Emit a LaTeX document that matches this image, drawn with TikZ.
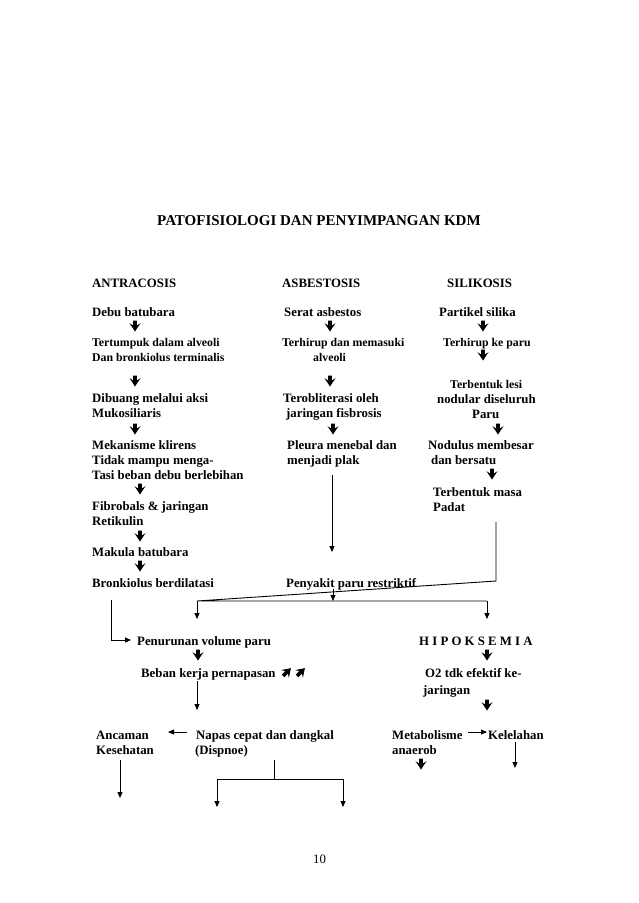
\documentclass[tikz,border=0pt]{standalone}
\usepackage{fontspec}
\setmainfont{Liberation Serif}
\usetikzlibrary{arrows.meta}
\tikzset{
  txt/.style={anchor=base west, inner sep=0pt, font=\bfseries\fontsize{12.8}{15}\selectfont},
  sml/.style={anchor=base west, inner sep=0pt, font=\bfseries\fontsize{11.8}{14}\selectfont},
  ttl/.style={anchor=base west, inner sep=0pt, font=\bfseries\fontsize{15}{18}\selectfont},
  pnum/.style={anchor=base west, inner sep=0pt, font=\fontsize{12.8}{15}\selectfont},
  conn/.style={line width=0.9pt},
  conarr/.style={conn, -{Triangle[length=6pt,width=5pt]}},
  bigdown/.pic={\fill (-1.8,-5.5) -- (1.8,-5.5) -- (1.8,-0.5) -- (5.5,-2.8) -- (0,5.5) -- (-5.5,-2.8) -- (-1.8,-0.5) -- cycle;}
}
\begin{document}
\begin{tikzpicture}[x=1pt,y=-1pt]
\useasboundingbox[fill=white] (0,0) rectangle (638,903);
% title
\node[ttl] (title) at (157,225) {PATOFISIOLOGI DAN PENYIMPANGAN KDM};
% left column
\node[txt] (antra) at (92,287) {ANTRACOSIS};
\node[txt] (debu) at (92,316) {Debu batubara};
\pic at (135,326) {bigdown};
\node[sml] (tertumpuk) at (92,346) {Tertumpuk dalam alveoli};
\node[sml] (danbronk) at (92,361) {Dan bronkiolus terminalis};
\pic at (135,381) {bigdown};
\node[txt] (dibuang) at (92,402) {Dibuang melalui aksi};
\node[txt] (mukos) at (92,417) {Mukosiliaris};
\pic at (135,429) {bigdown};
\node[txt] (mekan) at (92,449) {Mekanisme klirens};
\node[txt] (tidak) at (92,464) {Tidak mampu menga-};
\node[txt] (tasi) at (92,479) {Tasi beban debu berlebihan};
\pic at (140,489) {bigdown};
\node[txt] (fibro) at (92,510) {Fibrobals \& jaringan};
\node[txt] (retik) at (92,525) {Retikulin};
\pic at (140,536) {bigdown};
\node[txt] (makula) at (92,556) {Makula batubara};
\pic at (140,566) {bigdown};
\node[txt] (bronk) at (92,587) {Bronkiolus berdilatasi};
% middle column
\node[txt] (asbes) at (282,287) {ASBESTOSIS};
\node[txt] (serat) at (284,316) {Serat asbestos};
\pic at (330,326) {bigdown};
\node[sml] (terhirup) at (282,346) {Terhirup dan memasuki};
\node[sml] (alveoli) at (313,361) {alveoli};
\pic at (330,381) {bigdown};
\node[txt] (terob) at (283,402) {Terobliterasi oleh};
\node[txt] (jarfis) at (286,417) {jaringan fisbrosis};
\pic at (333,429) {bigdown};
\node[txt] (pleura) at (287,449) {Pleura menebal dan};
\node[txt] (plak) at (287,464) {menjadi plak};
\node[txt] (penyakit) at (286,587) {Penyakit paru restriktif};
% right column
\node[txt] (silik) at (447,287) {SILIKOSIS};
\node[txt] (partikel) at (439,316) {Partikel silika};
\pic at (483,326) {bigdown};
\node[sml] (terhirupke) at (443,346) {Terhirup ke paru};
\pic at (483,355) {bigdown};
\node[sml] (lesi) at (450,388) {Terbentuk lesi};
\node[txt] (nodular) at (437,403) {nodular diseluruh};
\node[txt] (paru) at (472,418) {Paru};
\pic at (498,429) {bigdown};
\node[txt] (nodulus) at (428,449) {Nodulus membesar};
\node[txt] (bersatu) at (431,464) {dan bersatu};
\pic at (492,474) {bigdown};
\node[txt] (masa) at (433,496) {Terbentuk masa};
\node[txt] (padat) at (433,511) {Padat};
% lower part
\node[txt] (penurunan) at (137,645) {Penurunan volume paru};
\pic at (198,655) {bigdown};
\node[txt] (beban) at (141,677) {Beban kerja pernapasan};
\pic[rotate=135] at (287,672) {bigdown};
\pic[rotate=135] at (301,672) {bigdown};
\node[txt] (hipo) at (419,645) {H I P O K S E M I A};
\pic at (487,655) {bigdown};
\node[txt] (otwo) at (425,677) {O2 tdk efektif ke-};
\node[txt] (jaringan) at (423,694) {jaringan};
\pic at (487,705) {bigdown};
\node[txt] (ancaman) at (96,739) {Ancaman};
\node[txt] (kesehatan) at (96,754) {Kesehatan};
\node[txt] (napas) at (196,739) {Napas cepat dan dangkal};
\node[txt] (dispnoe) at (195,754) {(Dispnoe)};
\node[txt] (metab) at (392,739) {Metabolisme};
\node[txt] (anaerob) at (392,754) {anaerob};
\pic at (421,764) {bigdown};
\node[txt] (kelelahan) at (488,739) {Kelelahan};
\node[pnum] (pagenum) at (313,863) {10};
% coordinates for connectors
\coordinate (plakS) at (332,475);
\coordinate (plakE) at (332,552);
\coordinate (padatS) at (496,522);
\coordinate (padatB) at (496,581);
\coordinate (junL) at (197,601);
\coordinate (junR) at (487,601);
\coordinate (junM) at (333,601);
\coordinate (penyS) at (333,589);
\coordinate (leftE) at (197,619);
\coordinate (rightE) at (487,619);
\coordinate (bronkS) at (111,600);
\coordinate (penA) at (131,640);
\coordinate (bebanS) at (197,681);
\coordinate (bebanE) at (197,710);
\coordinate (napasL) at (187,732);
\coordinate (ancamanR) at (168,732);
\coordinate (ancS) at (120,760);
\coordinate (ancE) at (120,798);
\coordinate (dispS) at (274,760);
\coordinate (forkM) at (274,779);
\coordinate (forkL) at (217,779);
\coordinate (forkR) at (343,779);
\coordinate (forkLE) at (217,807);
\coordinate (forkRE) at (343,807);
\coordinate (metabR) at (468,732);
\coordinate (kelL) at (487,732);
\coordinate (kelS) at (515,742);
\coordinate (kelE) at (515,768);
% connectors
\draw[conarr] (plakS) -- (plakE);
\draw[conn] (padatS) -- (padatB) -- (junL) -- (junR);
\draw[conarr] (penyS) -- (junM);
\draw[conarr] (junL) -- (leftE);
\draw[conarr] (junR) -- (rightE);
\draw[conarr] (bronkS) |- (penA);
\draw[conarr] (bebanS) -- (bebanE);
\draw[conarr] (napasL) -- (ancamanR);
\draw[conarr] (ancS) -- (ancE);
\draw[conn] (dispS) -- (forkM);
\draw[conn] (forkL) -- (forkR);
\draw[conarr] (forkL) -- (forkLE);
\draw[conarr] (forkR) -- (forkRE);
\draw[conarr] (metabR) -- (kelL);
\draw[conarr] (kelS) -- (kelE);
\end{tikzpicture}
\end{document}
